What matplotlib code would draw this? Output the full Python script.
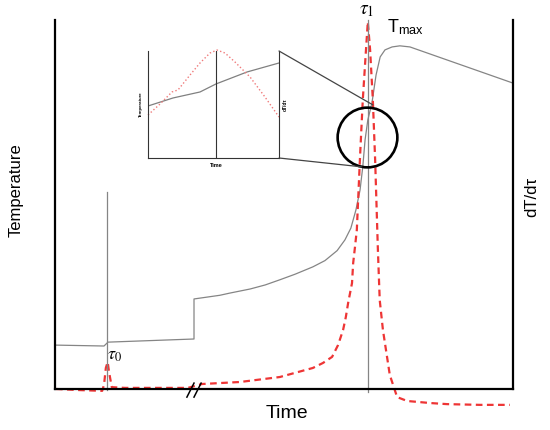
import matplotlib
matplotlib.use("Agg")
import matplotlib.pyplot as plt
from matplotlib.patches import ConnectionPatch

plt.rcParams["font.family"] = ["Liberation Sans", "DejaVu Sans"]
plt.rcParams["mathtext.fontset"] = "stix"

# main curves (time 0-100, signal 0-100)
temp_t = [0, 10.7, 11.57, 30.35, 30.35, 36.0, 38.2, 42.6, 45.9, 49.1, 52.4, 56.3,
          58.95, 61.6, 63.3, 64.6, 65.7, 66.6, 67.2, 67.7, 68.3, 69.2, 70.1, 71.0,
          72.05, 73.6, 75.3, 77.5, 100]
temp_y = [11.9, 11.65, 12.7, 13.55, 24.4, 25.4, 26.0, 27.1, 28.2, 29.6, 31.1, 33.1,
          34.8, 37.5, 40.4, 43.6, 48.5, 53.9, 60.2, 67.5, 72.9, 77.5, 85.1, 90.0,
          91.9, 92.7, 93.0, 92.7, 82.9]

rate_t = [0.2, 5.5, 10.3, 10.7, 11.1, 11.5, 11.8, 12.4, 15.3, 20.7, 29.0, 32.1, 40.4,
          49.1, 56.3, 58.5, 60.5, 61.8, 62.9, 63.5, 64.0, 64.85, 65.1, 65.5, 65.9,
          66.6, 67.2, 67.9, 68.3, 68.8, 69.4, 69.9, 70.5, 70.9, 71.6, 73.1, 74.7,
          76.9, 81.9, 85.6, 92.8, 99.3]
rate_y = [0, -0.3, -0.5, 1.1, 5.7, 7.3, 4.6, 0.5, 0.3, 0.3, 0.3, 1.35, 1.9,
          3.25, 5.7, 7.05, 8.7, 11.9, 16.0, 19.5, 23.3, 28.7, 34.1, 38.5, 43.1,
          62.9, 78.3, 91.9, 99.5, 91.9, 78.3, 62.1, 37.7, 24.1, 16.0, 3.8, -2.2,
          -3.25, -3.8, -4.1, -4.3, -4.3]

tau0, tau1 = 11.4, 68.3

# inset (zoomed region, normalised)
ins_t = [0, 0.191, 0.397, 0.519, 0.756, 1.0]
ins_temp = [0.486, 0.561, 0.617, 0.692, 0.804, 0.888]
ins_rt = [0, 0.092, 0.183, 0.229, 0.321, 0.397, 0.473, 0.527, 0.588, 0.664,
          0.779, 0.893, 1.0]
ins_rate = [0.402, 0.505, 0.617, 0.636, 0.776, 0.888, 0.981, 1.009, 0.981,
            0.897, 0.757, 0.570, 0.383]

fig = plt.figure(figsize=(5.5, 4.3), dpi=100)
ax = fig.add_axes([55 / 550, 41 / 430, 458 / 550, 369 / 430])
ax.set_xlim(0, 100)
ax.set_ylim(0, 100)
for side in ["left", "bottom", "right"]:
    ax.spines[side].set_linewidth(1.6)
ax.spines["top"].set_visible(False)
ax.set_xticks([])
ax.set_yticks([])

ax.plot(temp_t, temp_y, color="#858585", lw=0.9)
ax.plot(rate_t, rate_y, color="#ee3535", lw=1.6, dashes=(3, 2), clip_on=False)
ax.plot([tau0, tau0], [53.4, -0.3], color="#858585", lw=0.9, clip_on=False)
ax.plot([tau1, tau1], [100, -0.8], color="#858585", lw=0.9, clip_on=False)

# axis break mark
ax.plot([28.8, 30.35], [-2.2, 1.6], color="black", lw=1.1, clip_on=False)
ax.plot([30.35, 31.9], [-2.2, 1.6], color="black", lw=1.1, clip_on=False)

# zoom circle
ax.plot([68.2], [68.3], marker="o", ms=43, mfc="none", mec="black", mew=1.9,
        clip_on=False)

ax.text(tau1 - 0.3, 102.5, r"$\tau_1$", fontsize=14, ha="center", va="center")
ax.text(13.1, 9.2, r"$\tau_0$", fontsize=13, ha="center", va="center")
ax.text(72.5, 95.5, r"T$_{\mathregular{max}}$", fontsize=13, ha="left", va="bottom")

fig.text(287 / 550, 1 - 413 / 430, "Time", fontsize=14, ha="center", va="center")
fig.text(16 / 550, 1 - 190 / 430, "Temperature", fontsize=12, rotation=90,
         ha="center", va="center")
fig.text(532 / 550, 1 - 197 / 430, "dT/dτ", fontsize=12, rotation=90,
         ha="center", va="center")

# inset
ins = fig.add_axes([148 / 550, 272 / 430, 131 / 550, 107 / 430])
ins.set_xlim(0, 1)
ins.set_ylim(0, 1)
ins.spines["top"].set_visible(False)
for side in ["left", "bottom", "right"]:
    ins.spines[side].set_linewidth(0.8)
    ins.spines[side].set_color("#333333")
ins.set_xticks([])
ins.set_yticks([])
ins.plot(ins_t, ins_temp, color="#808080", lw=0.9)
ins.plot(ins_rt, ins_rate, color="#f07a7a", lw=1.0, ls=":", clip_on=False)
ins.plot([0.519, 0.519], [0, 1], color="#333333", lw=0.8)
ins.text(0.519, -0.05, "Time", fontsize=4, fontweight="bold", ha="center", va="top",
         transform=ins.transAxes)
ins.text(-0.04, 0.5, "Temperature", fontsize=3.2, fontweight="bold", rotation=90,
         ha="right", va="center", transform=ins.transAxes)
ins.text(1.03, 0.5, "dT/dτ", fontsize=3.5, fontweight="bold", rotation=90,
         ha="left", va="center", transform=ins.transAxes)

for xy_ins, xy_main in [((1, 1), (69.4, 77.0)), ((1, 0), (67.0, 60.2))]:
    con = ConnectionPatch(xyA=xy_ins, coordsA=ins.transAxes, xyB=xy_main,
                          coordsB=ax.transData, color="#444444", lw=0.9)
    fig.add_artist(con)

fig.savefig("out.png", dpi=100)
